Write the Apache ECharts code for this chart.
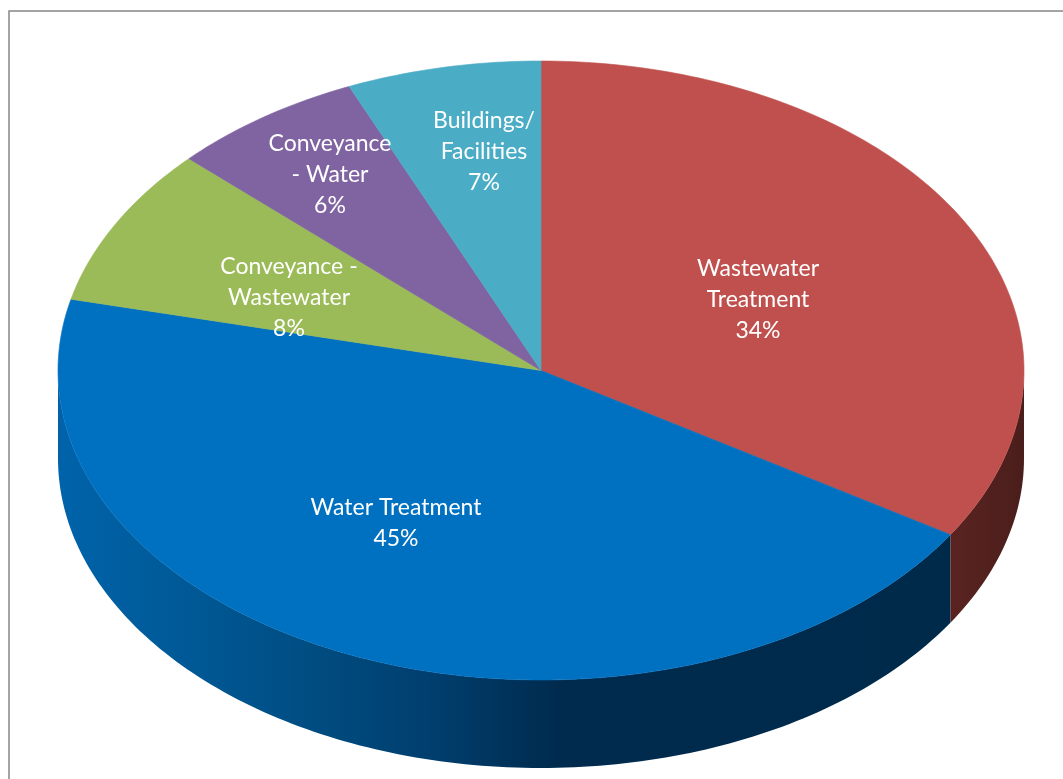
<!DOCTYPE html>
<html><head><meta charset="utf-8">
<style>html,body{margin:0;padding:0;background:#fff}#c{width:1063px;height:779px}</style>
<script src="https://cdn.jsdelivr.net/npm/echarts@6/dist/echarts.min.js"></script>
</head><body><div id="c"></div>
<script>
const categories = ["Wastewater\nTreatment","Water Treatment","Conveyance -\nWastewater","Conveyance\n- Water","Buildings/\nFacilities"];
const values = [33.9,44.8,8.3,6.5,6.5];
const percentLabels = [34,45,8,6,7];
const colors = ["#C0504D","#0070C0","#9BBB59","#8064A2","#4BACC6"];
const labelPos = [[758,300],[396,523],[289,298],[330,175],[484,152]];

const cx=541, cy=370.5, rx=483, ry=309.5, depth=88, segStep=1;
const total=values.reduce((a,b)=>a+b,0);
const pt=(deg,dy=0)=>{const t=deg*Math.PI/180;return [cx+rx*Math.sin(t),cy-ry*Math.cos(t)+dy];};
const spans=[];let acc=0;
values.forEach(v=>{spans.push([acc/total*360,(acc+v)/total*360]);acc+=v;});
function arcPts(a,b,dy){const p=[];for(let d=a;d<b;d+=segStep)p.push(pt(d,dy));p.push(pt(b,dy));return p;}

const chart=echarts.init(document.getElementById('c'),null,{renderer:'canvas'});
chart.setOption({
  animation:false,
  graphic:[{type:'rect',shape:{x:9,y:11,width:1080,height:800},style:{fill:'#fff',stroke:'#868686',lineWidth:1.5},z:-1}],
  series:[
  {
    type:'custom',coordinateSystem:'none',z:1,silent:true,
    data:values.map((v,i)=>i),
    renderItem(params){
      const i=params.dataIndex,[a,b]=spans[i];
      const s=Math.max(a,90),e=Math.min(b,270);
      if(s>=e)return null;
      const top=arcPts(s,e,0),bot=arcPts(s,e,depth).reverse();
      return {type:'polygon',shape:{points:top.concat(bot)},
        style:{fill:new echarts.graphic.LinearGradient(0,0,1,0,
          i===1?[{offset:0,color:'#0063aa'},{offset:.13,color:'#005a98'},{offset:.28,color:'#004d82'},{offset:.43,color:'#003d6c'},{offset:.56,color:'#002b4e'},{offset:1,color:'#002a4a'}]
               :[{offset:0,color:'#5a2320'},{offset:1,color:'#4a1e1c'}])}};
    }
  },
  {
    type:'custom',coordinateSystem:'none',z:2,silent:true,
    data:values.map((v,i)=>i),
    renderItem(params){
      const i=params.dataIndex,[a,b]=spans[i];
      return {type:'polygon',shape:{points:[[cx,cy]].concat(arcPts(a,b,0))},
        style:{fill:colors[i],stroke:colors[i],lineWidth:0.6}};
    }
  },
  {
    type:'custom',coordinateSystem:'none',z:3,silent:true,
    data:values.map((v,i)=>i),
    renderItem(params){
      const i=params.dataIndex;
      return {type:'text',z2:10,style:{
        x:labelPos[i][0],y:labelPos[i][1],
        text:categories[i]+"\n"+percentLabels[i]+"%",
        fill:'#fff',font:'23px Lato, sans-serif',lineHeight:31,
        align:'center',verticalAlign:'middle'}};
    }
  }]
});
</script></body></html>
